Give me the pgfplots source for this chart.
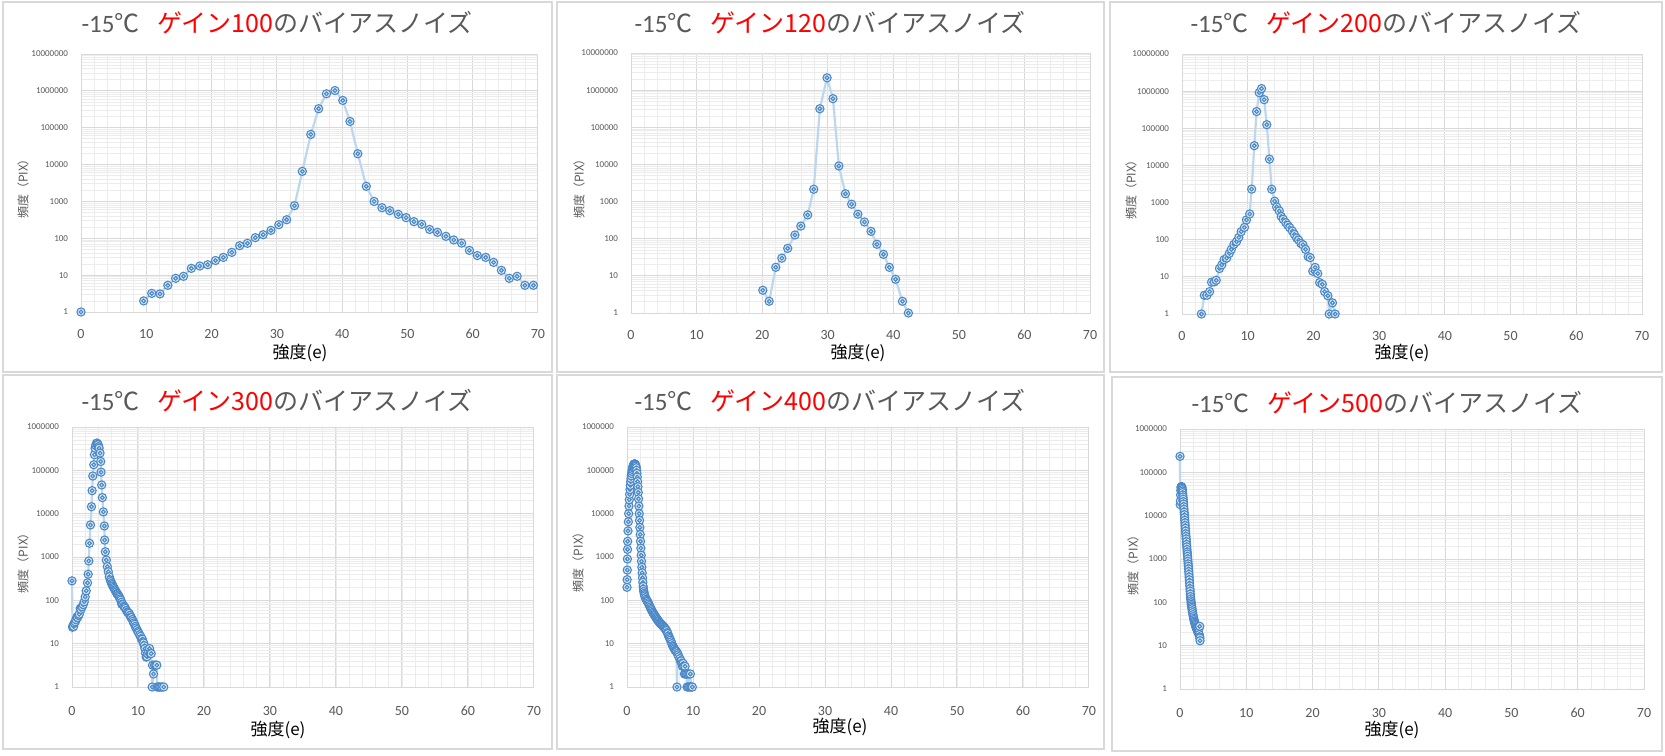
\documentclass[border=0pt]{standalone}
\usepackage{pgfplots}
\pgfplotsset{compat=1.18}
\usepackage{fontspec}
\setmainfont{Carlito}
\newfontfamily\jp{Noto Sans CJK JP}
\definecolor{gmaj}{HTML}{D9D9D9}
\definecolor{gmin}{HTML}{ECECEC}
\definecolor{tgray}{HTML}{595959}
\definecolor{lblue}{HTML}{BDD7EE}
\definecolor{mkc}{HTML}{4A88C8}
\definecolor{mkf}{HTML}{DEEBF7}
\definecolor{xred}{HTML}{FF0000}
\definecolor{pbord}{HTML}{D9D9D9}

\pgfdeclareplotmark{bull}{%
  \pgfsetlinewidth{0.55pt}%
  \pgfsetstrokecolor{mkc}\pgfsetfillcolor{mkf}%
  \pgfpathcircle{\pgfpointorigin}{2.05pt}\pgfusepath{fill,stroke}%
  \pgfpathcircle{\pgfpointorigin}{0.95pt}\pgfusepath{stroke}%
}

\pgfplotsset{
  every axis/.append style={
    scale only axis, xmin=0, xmax=70,
    xtick={0,10,20,30,40,50,60,70}, minor xtick={2,4,...,68},
    grid=both,
    major grid style={draw=gmaj, line width=0.5pt},
    minor grid style={draw=gmin, line width=0.4pt},
    axis line style={draw=gmaj, line width=0.5pt},
    major tick length=0pt, minor tick length=0pt,
    /pgf/number format/assume math mode=true,
    xticklabel style={font=\fontsize{7}{7}\selectfont, text=tgray, yshift=-5pt},
    yticklabel style={font=\fontsize{4.5}{5}\selectfont, text=tgray, xshift=-3pt},
    clip=false, anchor=south west, unbounded coords=jump,
  },
}

\newcommand{\ttl}[1]{-15{\jp ℃}\hspace{0.7em}{\jp\color{xred}ゲイン#1}{\jp のバイアスノイズ}}

\begin{document}
\begin{tikzpicture}[x=0.5pt,y=-0.5pt]
\useasboundingbox (0,0) rectangle (1665,755);
\fill[white] (0,0) rectangle (1665,755);
% panel borders
\draw[pbord, line width=0.6pt] (3,2) rectangle (552,372);
\draw[pbord, line width=0.6pt] (557,2) rectangle (1104,372);
\draw[pbord, line width=0.6pt] (1110,2) rectangle (1662,372);
\draw[pbord, line width=0.6pt] (3,375) rectangle (552,749);
\draw[pbord, line width=0.6pt] (557,375) rectangle (1104,749);
\draw[pbord, line width=0.6pt] (1112,377) rectangle (1662,751);

% ---------- Panel 1: gain 100
\begin{axis}[at={(40.5pt,-156pt)}, width=228.5pt, height=129pt,
  ymode=log, ymin=1, ymax=10000000,
  ytick={1,10,100,1000,10000,100000,1000000,10000000},
  yticklabels={1,10,100,1000,10000,100000,1000000,10000000},
  minor ytick={2,3,4,5,6,7,8,9,20,30,40,50,60,70,80,90,200,300,400,500,600,700,800,900,2000,3000,4000,5000,6000,7000,8000,9000,20000,30000,40000,50000,60000,70000,80000,90000,200000,300000,400000,500000,600000,700000,800000,900000,2000000,3000000,4000000,5000000,6000000,7000000,8000000,9000000}]
\addplot[color=lblue, line width=1.1pt, mark=bull] coordinates {
(0,1) (5,nan) (9.6,2) (10.84,3.2) (12.1,3.1) (13.3,5.3) (14.5,8.2) (15.7,9.3) (16.9,15.3)
(18.2,17.7) (19.4,19.2) (20.6,25) (21.8,30.3) (23.1,41.5) (24.3,63) (25.5,73)
(26.7,104) (27.9,125) (29.1,164) (30.3,234) (31.5,318) (32.7,766) (33.9,6540)
(35.2,66000) (36.4,327000) (37.6,833000) (38.9,1020000) (40.1,550000) (41.2,148000)
(42.4,19700) (43.7,2570) (44.9,1000) (46.1,676) (47.3,562) (48.6,447) (49.8,363)
(51.0,282) (52.2,240) (53.4,174) (54.6,145) (55.9,113) (57.1,90) (58.3,74)
(59.5,47) (60.7,34) (62.0,30.3) (63.2,22.2) (64.4,13.5) (65.6,8.2) (66.8,9.3)
(68.0,5.3) (69.3,5.3)
};
\end{axis}

% ---------- Panel 2: gain 120
\begin{axis}[at={(315.5pt,-156.5pt)}, width=229.5pt, height=130pt,
  ymode=log, ymin=1, ymax=10000000,
  ytick={1,10,100,1000,10000,100000,1000000,10000000},
  yticklabels={1,10,100,1000,10000,100000,1000000,10000000},
  minor ytick={2,3,4,5,6,7,8,9,20,30,40,50,60,70,80,90,200,300,400,500,600,700,800,900,2000,3000,4000,5000,6000,7000,8000,9000,20000,30000,40000,50000,60000,70000,80000,90000,200000,300000,400000,500000,600000,700000,800000,900000,2000000,3000000,4000000,5000000,6000000,7000000,8000000,9000000}]
\addplot[color=lblue, line width=1.1pt, mark=bull] coordinates {
(20.1,4.1) (21.07,2.07) (22.08,17) (23.0,30) (23.9,55) (25.0,126) (25.9,219)
(26.95,437) (27.87,2150) (28.8,316000) (29.9,2150000) (30.8,590000) (31.7,9100)
(32.7,1620) (33.65,850) (34.6,457) (35.6,282) (36.6,158) (37.5,71) (38.5,38)
(39.4,17) (40.35,8.1) (41.4,2.07) (42.3,1)
};
\end{axis}

% ---------- Panel 3: gain 200
\begin{axis}[at={(591pt,-157pt)}, width=230pt, height=130pt,
  ymode=log, ymin=1, ymax=10000000,
  ytick={1,10,100,1000,10000,100000,1000000,10000000},
  yticklabels={1,10,100,1000,10000,100000,1000000,10000000},
  minor ytick={2,3,4,5,6,7,8,9,20,30,40,50,60,70,80,90,200,300,400,500,600,700,800,900,2000,3000,4000,5000,6000,7000,8000,9000,20000,30000,40000,50000,60000,70000,80000,90000,200000,300000,400000,500000,600000,700000,800000,900000,2000000,3000000,4000000,5000000,6000000,7000000,8000000,9000000}]
\addplot[color=lblue, line width=1.1pt, mark=bull] coordinates {
(2.95,1) (3.4,3.2) (3.8,3.2) (4.2,4.0) (4.5,7.2) (4.9,7.3) (5.2,8.1) (5.7,16.8)
(6.05,21) (6.4,29) (6.8,32) (7.2,43) (7.5,55) (7.9,75) (8.3,89) (8.65,116)
(9.0,165) (9.5,215) (9.8,340) (10.3,493) (10.6,2300) (11.0,34000) (11.35,282000)
(11.75,910000) (12.1,1170000) (12.5,590000) (12.9,125000) (13.3,14800) (13.65,2290)
(14.1,1090) (14.4,760) (14.8,595) (15.1,420) (15.4,355) (15.8,288) (16.1,244)
(16.4,210) (16.8,171) (17.1,139) (17.45,111) (17.75,98) (18.1,79) (18.4,73)
(18.8,55) (19.2,35) (19.5,33) (19.9,14.2) (20.25,18) (20.65,12.3) (20.95,7)
(21.35,6.3) (21.7,4.0) (22.2,3.1) (22.4,1) (22.9,2.0) (23.3,1)
};
\end{axis}

% ---------- Panel 4: gain 300
\begin{axis}[at={(36pt,-343.5pt)}, width=231pt, height=130pt,
  ymode=log, ymin=1, ymax=1000000,
  xticklabel style={yshift=-1pt},
  ytick={1,10,100,1000,10000,100000,1000000},
  yticklabels={1,10,100,1000,10000,100000,1000000},
  minor ytick={2,3,4,5,6,7,8,9,20,30,40,50,60,70,80,90,200,300,400,500,600,700,800,900,2000,3000,4000,5000,6000,7000,8000,9000,20000,30000,40000,50000,60000,70000,80000,90000,200000,300000,400000,500000,600000,700000,800000,900000}]
\addplot[color=lblue, line width=1.1pt, mark=bull] coordinates {
(0,282) (0.08,24) (0.15,26) (0.25,25) (0.35,30) (0.5,32) (0.6,36) (0.75,41) (0.85,40)
(1.0,45) (1.1,48) (1.25,65) (1.35,62) (1.55,71) (1.7,80) (1.85,93) (2.0,120) (2.15,166)
(2.35,253) (2.45,400) (2.55,810) (2.65,2080) (2.8,5500) (2.95,14500) (3.05,34000)
(3.15,74000) (3.3,135000) (3.4,229000) (3.5,325000) (3.6,380000) (3.7,420000)
(3.8,425000) (3.9,400000) (3.95,390000) (4.05,350000) (4.1,325000) (4.25,250000)
(4.35,160000) (4.4,91000) (4.5,46000) (4.6,23500) (4.75,11000) (4.9,5200) (4.95,2460)
(5.05,1320) (5.2,850) (5.35,600) (5.5,457) (5.65,350) (5.8,295) (5.9,270) (6.0,245)
(6.1,230) (6.2,214) (6.3,200) (6.4,188) (6.5,175) (6.6,166) (6.7,155) (6.8,144)
(6.9,140) (7.0,132) (7.1,125) (7.2,117) (7.3,108) (7.4,101) (7.5,90) (7.55,81)
(7.7,80) (7.85,73) (8.0,70) (8.1,65) (8.25,58) (8.4,54) (8.5,52) (8.65,50) (8.8,45)
(8.9,41) (9.0,40) (9.15,36) (9.25,33) (9.35,30) (9.5,28) (9.6,25) (9.7,23) (9.85,21)
(10.0,19) (10.1,17.8) (10.25,16) (10.4,14.8) (10.5,13) (10.65,12.7) (10.75,11)
(10.85,10.4) (10.95,9) (11.05,7.7) (11.15,6) (11.25,4.9) (11.35,5) (11.45,5.9)
(11.6,6.5) (11.75,7.7) (11.85,6) (12.0,5.9) (12.15,1) (12.2,3.2) (12.35,2) (12.5,3.2)
(12.7,3.2) (12.85,3.2) (12.9,1) (13.1,1) (13.25,1) (13.45,1) (13.65,1) (13.9,1)
};
\end{axis}

% ---------- Panel 5: gain 400
\begin{axis}[at={(313.5pt,-343.5pt)}, width=231pt, height=130pt,
  ymode=log, ymin=1, ymax=1000000,
  xticklabel style={yshift=-1pt},
  ytick={1,10,100,1000,10000,100000,1000000},
  yticklabels={1,10,100,1000,10000,100000,1000000},
  minor ytick={2,3,4,5,6,7,8,9,20,30,40,50,60,70,80,90,200,300,400,500,600,700,800,900,2000,3000,4000,5000,6000,7000,8000,9000,20000,30000,40000,50000,60000,70000,80000,90000,200000,300000,400000,500000,600000,700000,800000,900000}]
\addplot[color=lblue, line width=1.1pt, mark=bull] coordinates {
(0.00,200) (0.02,300) (0.04,500) (0.06,900) (0.08,1500) (0.10,2300) (0.15,4000)
(0.20,6500) (0.25,10000) (0.30,15000) (0.35,21000) (0.40,28000) (0.45,36000)
(0.50,45000) (0.55,55000) (0.60,65000) (0.65,75000) (0.70,85000) (0.75,95000)
(0.80,105000) (0.85,115000) (0.90,122000) (0.95,128000) (1.00,133000) (1.05,137000)
(1.10,140000) (1.15,141000) (1.20,140000) (1.25,137000) (1.30,132000) (1.35,125000)
(1.40,115000) (1.45,100000) (1.50,85000) (1.55,70000) (1.60,55000) (1.65,42000)
(1.70,31000) (1.75,22000) (1.80,15000) (1.85,10000) (1.90,7000) (1.95,4800)
(2.00,3300) (2.05,2300) (2.10,1600) (2.15,1100) (2.20,800) (2.25,580) (2.30,430)
(2.35,330) (2.40,260) (2.45,210) (2.50,180) (2.55,160) (2.60,145) (2.65,135)
(2.70,126) (2.80,115) (2.90,106) (3.00,100) (3.10,95) (3.20,88) (3.30,82) (3.40,76)
(3.50,70) (3.60,65) (3.70,61) (3.80,57) (3.90,53) (4.00,50) (4.10,47) (4.20,45)
(4.30,42) (4.40,40) (4.50,38) (4.60,36) (4.70,34) (4.80,33) (4.90,31) (5.00,30)
(5.10,29) (5.20,28) (5.30,27) (5.40,26) (5.50,25) (5.60,24) (5.70,23) (5.80,22)
(5.90,21) (6.00,20) (6.10,18) (6.20,17) (6.30,15) (6.40,14) (6.50,13) (6.60,12)
(6.70,11) (6.80,10) (6.90,9) (7.00,8.5) (7.10,8) (7.20,7.5) (7.30,7) (7.40,6.8)
(7.50,6.5) (7.57,1) (7.65,6) (7.75,5.5) (7.85,5) (8.00,4.5) (8.10,4) (8.20,4)
(8.30,3.5) (8.40,3) (8.50,3.5) (8.60,3) (8.70,2) (8.80,3) (8.90,2) (9.00,2)
(9.10,1) (9.20,2) (9.30,1) (9.40,2) (9.50,1) (9.60,2) (9.70,1) (9.80,1) (9.90,1)
};
\end{axis}

% ---------- Panel 6: gain 500
\begin{axis}[at={(590pt,-344.5pt)}, width=232pt, height=130pt,
  ymode=log, ymin=1, ymax=1000000,
  xticklabel style={yshift=-1pt},
  ytick={1,10,100,1000,10000,100000,1000000},
  yticklabels={1,10,100,1000,10000,100000,1000000},
  minor ytick={2,3,4,5,6,7,8,9,20,30,40,50,60,70,80,90,200,300,400,500,600,700,800,900,2000,3000,4000,5000,6000,7000,8000,9000,20000,30000,40000,50000,60000,70000,80000,90000,200000,300000,400000,500000,600000,700000,800000,900000}]
\addplot[color=lblue, line width=1.1pt, mark=bull] coordinates {
(0.00,234000) (0.03,18000) (0.06,22000) (0.09,30000) (0.12,38000) (0.15,44000)
(0.18,46000) (0.21,47000) (0.24,46000) (0.27,45000) (0.30,43000) (0.33,40000)
(0.36,37000) (0.39,34000) (0.42,30000) (0.45,27000) (0.48,24000) (0.51,21000)
(0.54,18500) (0.57,16000) (0.60,14000) (0.63,12000) (0.66,10500) (0.69,9000)
(0.72,7800) (0.75,6800) (0.78,5900) (0.81,5100) (0.84,4400) (0.87,3800) (0.90,3300)
(0.93,2900) (0.96,2500) (0.99,2150) (1.02,1900) (1.05,1650) (1.08,1450) (1.11,1300)
(1.14,1150) (1.17,1000) (1.20,880) (1.23,770) (1.26,680) (1.29,590) (1.32,510)
(1.35,440) (1.38,380) (1.41,330) (1.44,280) (1.47,240) (1.50,205) (1.53,180)
(1.56,155) (1.59,135) (1.62,120) (1.65,108) (1.68,98) (1.71,90) (1.74,83) (1.77,77)
(1.80,71) (1.85,64) (1.90,58) (1.95,52) (2.00,47) (2.05,43) (2.10,40) (2.15,37)
(2.20,35) (2.25,33) (2.30,31) (2.35,29) (2.40,27) (2.45,26) (2.50,25) (2.55,24)
(2.60,23) (2.65,22) (2.70,21) (2.75,20) (2.80,19) (2.85,25) (2.90,18) (2.95,16)
(2.97,28) (3.00,15) (3.02,13)
};
\end{axis}

% titles
\begin{scope}[every node/.style={font=\fontsize{12.5}{12.5}\selectfont, text=tgray, inner sep=0pt}]
\node at (277,23) {\ttl{100}};
\node at (830,23) {\ttl{120}};
\node at (1386,23) {\ttl{200}};
\node at (277,401) {\ttl{300}};
\node at (830,401) {\ttl{400}};
\node at (1387,403) {\ttl{500}};
\end{scope}
% x labels
\begin{scope}[every node/.style={font=\jp\fontsize{8.5}{8.5}\selectfont, text=black, inner sep=0pt}]
\node at (300,353) {強度(e)};
\node at (858,353) {強度(e)};
\node at (1402,353) {強度(e)};
\node at (278,730) {強度(e)};
\node at (840,727) {強度(e)};
\node at (1392,730) {強度(e)};
\end{scope}
% y labels
\begin{scope}[every node/.style={font=\jp\fontsize{6}{6}\selectfont, text=tgray, inner sep=0pt, rotate=90}]
\node at (23,186) {頻度（PIX）};
\node at (579,186) {頻度（PIX）};
\node at (1131,187) {頻度（PIX）};
\node at (23,560) {頻度（PIX）};
\node at (578,559) {頻度（PIX）};
\node at (1133,562) {頻度（PIX）};
\end{scope}
\end{tikzpicture}
\end{document}
